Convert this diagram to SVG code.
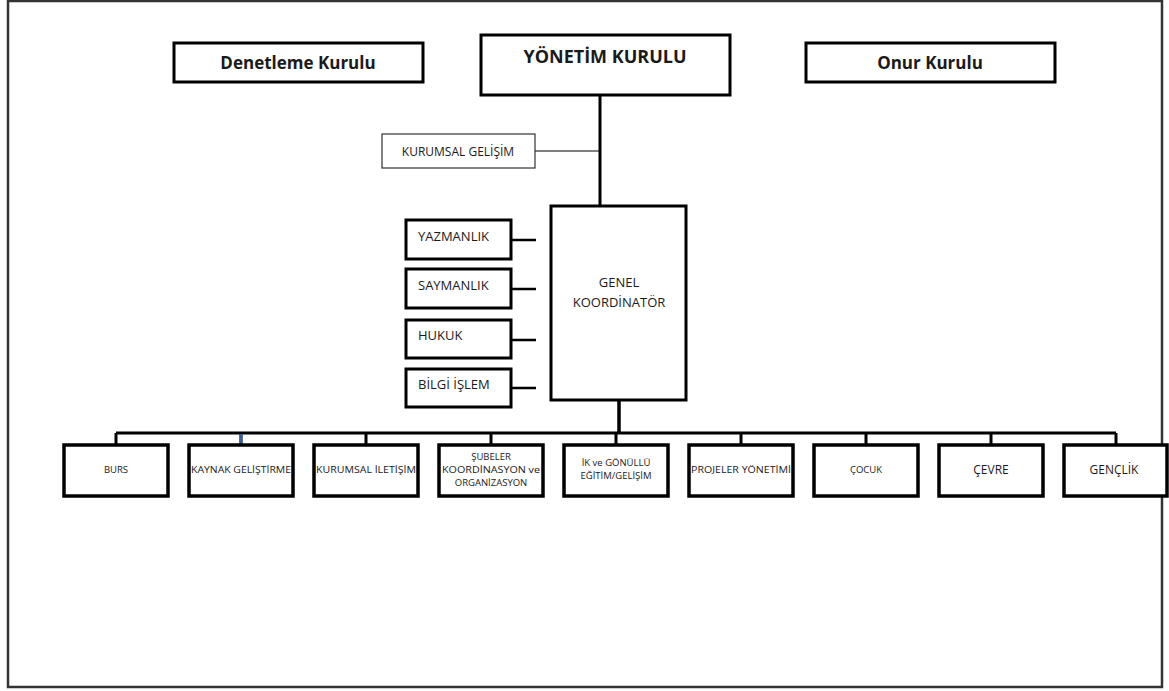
<svg xmlns="http://www.w3.org/2000/svg" width="1169" height="691" viewBox="0 0 1169 691">
<style>
text{font-family:"Open Sans","Liberation Sans",sans-serif;fill:#1a1a1a}
.b{fill:#fff;stroke:#000;stroke-width:3}
.t{fill:#fff;stroke:#333;stroke-width:1.2}
.k{fill:#fff;stroke:#000;stroke-width:3.5}
.h{font-weight:bold;text-anchor:middle}
.s{font-size:13px}
.m{font-size:9.5px;text-anchor:middle}
.c{stroke:#000;fill:none}
</style>
<rect x="8" y="1" width="1154" height="686" fill="#fff" stroke="#333" stroke-width="2.5"/>
<g id="connectors">
<path class="c" stroke-width="3" d="M600 95V215"/>
<path class="c" stroke-width="1.2" d="M535 151H600"/>
<path class="c" stroke-width="2.5" d="M511 240H536M511 289H536M511 340H536M511 388H536"/>
<path class="c" stroke-width="3.5" d="M619 400V433"/>
<path class="c" stroke-width="3" d="M116 433H1116M116 433V445M241 433V445M366 433V445M491 433V445M616 433V445M741 433V445M866 433V445M991 433V445M1116 433V445"/>
<path stroke="#3a5f9a" stroke-width="3" d="M241 434V444"/>
</g>
<g id="denetleme"><rect class="b" x="174" y="43" width="249" height="39"/><text class="h" x="298" y="69" font-size="17">Denetleme Kurulu</text></g>
<g id="yonetim"><rect class="b" x="481" y="35" width="249" height="60"/><text class="h" x="605" y="63" font-size="18">YÖNETİM KURULU</text></g>
<g id="onur"><rect class="b" x="806" y="43" width="249" height="39"/><text class="h" x="930" y="69" font-size="17">Onur Kurulu</text></g>
<g id="kurumsal-gelisim"><rect class="t" x="382" y="134" width="153" height="34"/><text x="458" y="156" text-anchor="middle" font-size="12">KURUMSAL GELİŞİM</text></g>
<g id="genel"><rect class="b" x="551" y="206" width="135" height="194"/><text x="619" y="287" text-anchor="middle" font-size="13">GENEL</text><text x="619" y="307" text-anchor="middle" font-size="13">KOORDİNATÖR</text></g>
<g id="yazmanlik"><rect class="b" x="406" y="220" width="105" height="39"/><text class="s" x="418" y="241">YAZMANLIK</text></g>
<g id="saymanlik"><rect class="b" x="406" y="269" width="105" height="39"/><text class="s" x="418" y="290">SAYMANLIK</text></g>
<g id="hukuk"><rect class="b" x="406" y="320" width="105" height="38"/><text class="s" x="418" y="340">HUKUK</text></g>
<g id="bilgi"><rect class="b" x="406" y="369" width="105" height="38"/><text class="s" x="418" y="389">BİLGİ İŞLEM</text></g>
<g id="burs"><rect class="k" x="64" y="445" width="104" height="51"/><text class="m" x="116" y="473" font-size="8">BURS</text></g>
<g id="kaynak"><rect class="k" x="189" y="445" width="104" height="51"/><text class="m" x="241" y="473" textLength="100" lengthAdjust="spacingAndGlyphs">KAYNAK GELİŞTİRME</text></g>
<g id="iletisim"><rect class="k" x="314" y="445" width="104" height="51"/><text class="m" x="366" y="473" textLength="100" lengthAdjust="spacingAndGlyphs">KURUMSAL İLETİŞİM</text></g>
<g id="subeler"><rect class="k" x="439" y="445" width="104" height="51"/><text class="m" x="491" y="460">ŞUBELER</text><text class="m" x="491" y="473" textLength="98" lengthAdjust="spacingAndGlyphs">KOORDİNASYON ve</text><text class="m" x="491" y="486">ORGANİZASYON</text></g>
<g id="ik"><rect class="k" x="564" y="445" width="104" height="51"/><text class="m" x="616" y="466">İK ve GÖNÜLLÜ</text><text class="m" x="616" y="479">EĞİTİM/GELİŞİM</text></g>
<g id="projeler"><rect class="k" x="689" y="445" width="104" height="51"/><text class="m" x="741" y="473" textLength="100" lengthAdjust="spacingAndGlyphs">PROJELER YÖNETİMİ</text></g>
<g id="cocuk"><rect class="k" x="814" y="445" width="104" height="51"/><text class="m" x="866" y="473" font-size="8">ÇOCUK</text></g>
<g id="cevre"><rect class="k" x="939" y="445" width="104" height="51"/><text x="991" y="474" text-anchor="middle" font-size="12">ÇEVRE</text></g>
<g id="genclik"><rect class="k" x="1064" y="445" width="103" height="51"/><text x="1114" y="474" text-anchor="middle" font-size="12">GENÇLİK</text></g>
</svg>
